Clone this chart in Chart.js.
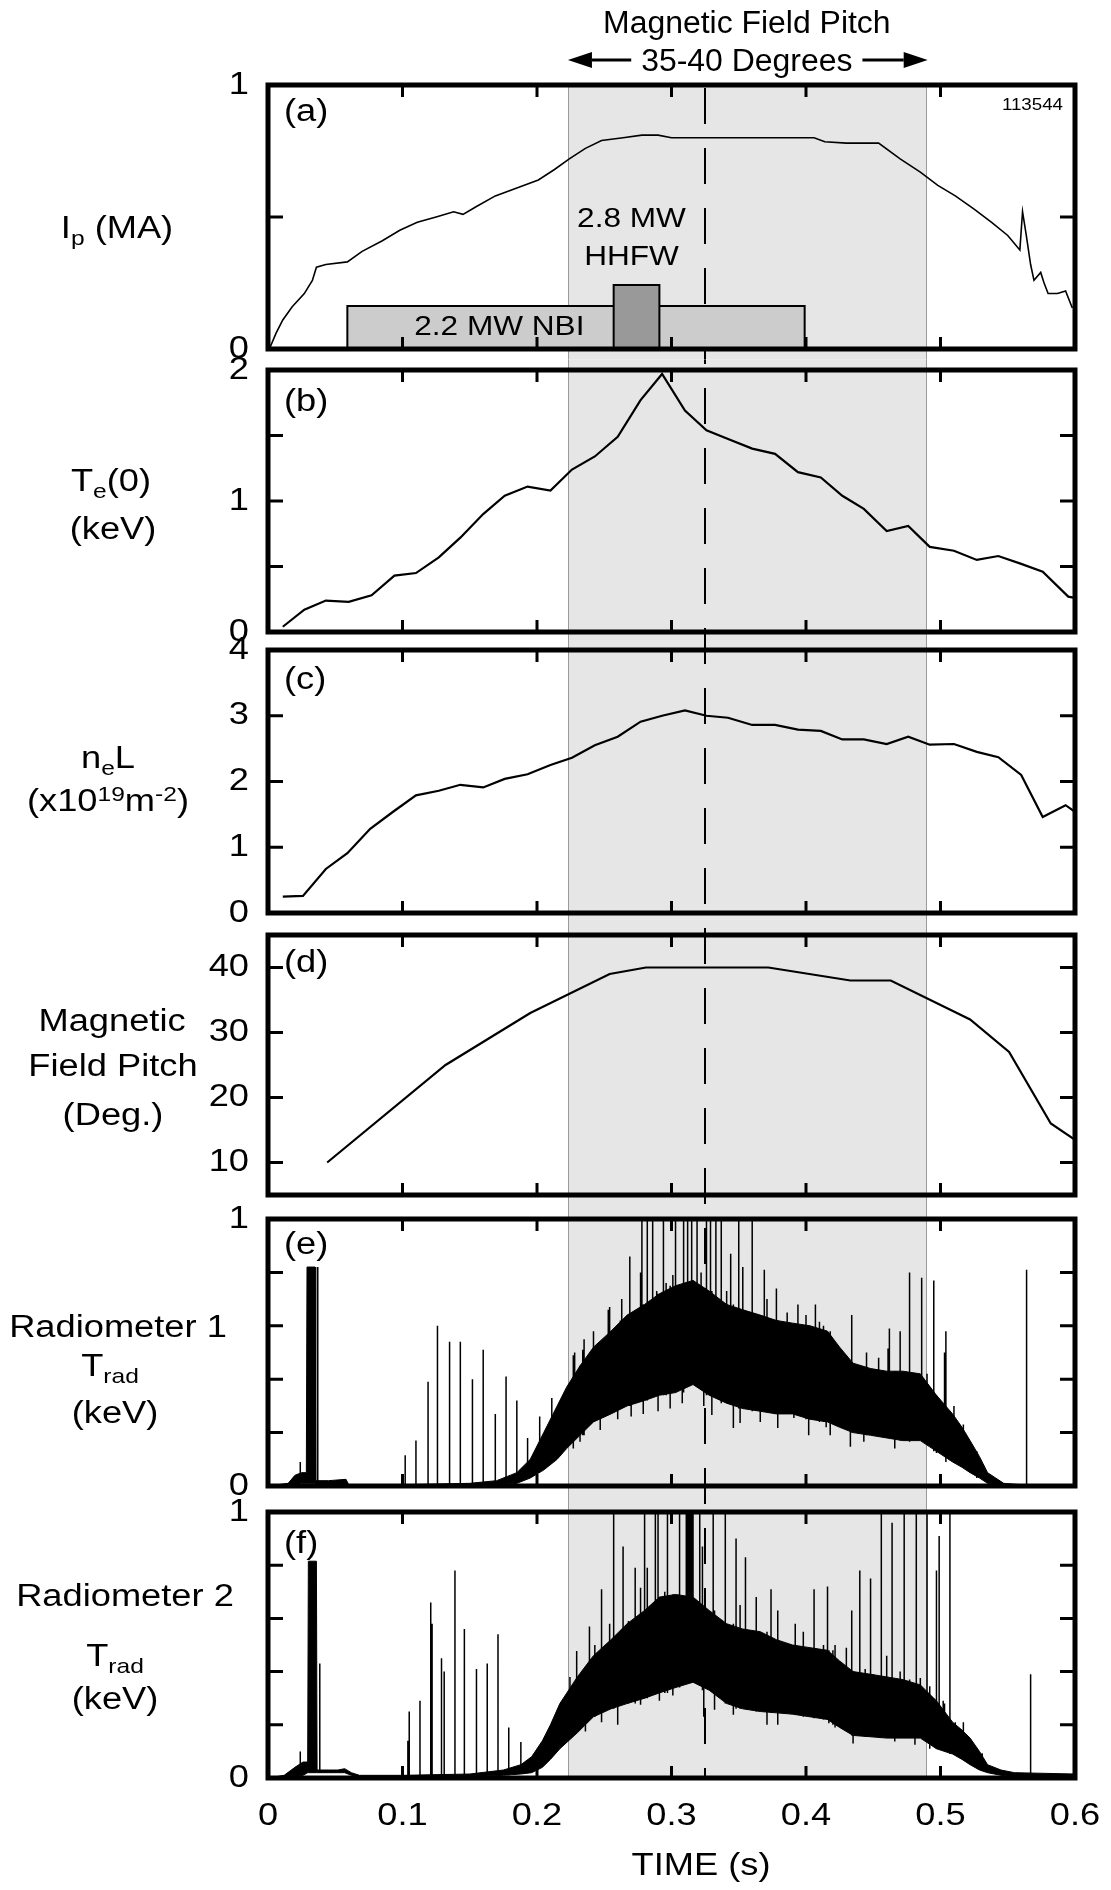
<!DOCTYPE html>
<html>
<head>
<meta charset="utf-8">
<title>Shot 113544</title>
<script src="https://cdn.jsdelivr.net/npm/chart.js@4.4.1/dist/chart.umd.min.js"></script>
<style>
  html, body { margin: 0; padding: 0; background: #fff; }
  #wrap { position: relative; width: 1111px; height: 1890px; overflow: hidden; background: #fff; }
  #wrap canvas { position: absolute; left: 0; }
</style>
</head>
<body>
<div id="wrap"></div>
<script>
// ---- time axis ----
const timeTicks = [0, 0.1, 0.2, 0.3, 0.4, 0.5, 0.6];
const timeLabels = ['0', '0.1', '0.2', '0.3', '0.4', '0.5', '0.6'];

// window where the field pitch is 35-40 degrees, and the dashed marker
const pitchWindow = [0.223, 0.489];
const markerTime = 0.325;

// (a) plasma current (MA)
const ipTime = [0.001, 0.006, 0.011, 0.018, 0.027, 0.033, 0.036, 0.043, 0.059, 0.070, 0.085, 0.098, 0.111, 0.125, 0.138, 0.145, 0.155, 0.169, 0.185, 0.201, 0.213, 0.224, 0.236, 0.248, 0.264, 0.278, 0.290, 0.300, 0.327, 0.360, 0.406, 0.414, 0.430, 0.454, 0.470, 0.485, 0.498, 0.511, 0.525, 0.538, 0.550, 0.559, 0.561, 0.5635, 0.567, 0.5695, 0.5745, 0.577, 0.580, 0.587, 0.593, 0.598];
const ipValue = [0, 0.06, 0.11, 0.16, 0.21, 0.26, 0.31, 0.32, 0.33, 0.37, 0.41, 0.45, 0.48, 0.50, 0.52, 0.51, 0.54, 0.58, 0.61, 0.64, 0.68, 0.72, 0.76, 0.79, 0.80, 0.81, 0.81, 0.80, 0.80, 0.80, 0.80, 0.785, 0.78, 0.78, 0.72, 0.67, 0.62, 0.58, 0.53, 0.48, 0.43, 0.375, 0.52, 0.44, 0.32, 0.26, 0.29, 0.25, 0.21, 0.21, 0.22, 0.155];
// heating pulses drawn as boxes on panel (a)
const nbiTime = [0.059, 0.399];
const nbiHeight = 0.163;
const hhfwTime = [0.257, 0.291];
const hhfwHeight = 0.242;
const ipTicks = [0, 0.5, 1];
const ipTickLabels = ['0', '', '1'];

// (b) central electron temperature (keV)
const teTime = [0.011, 0.027, 0.043, 0.060, 0.077, 0.094, 0.110, 0.127, 0.143, 0.160, 0.176, 0.193, 0.210, 0.226, 0.243, 0.260, 0.277, 0.293, 0.310, 0.326, 0.343, 0.360, 0.377, 0.394, 0.411, 0.427, 0.443, 0.460, 0.476, 0.492, 0.510, 0.527, 0.543, 0.560, 0.576, 0.595, 0.600];
const teValue = [0.04, 0.17, 0.24, 0.23, 0.28, 0.43, 0.45, 0.57, 0.72, 0.90, 1.04, 1.11, 1.08, 1.24, 1.34, 1.49, 1.77, 1.97, 1.69, 1.54, 1.47, 1.40, 1.36, 1.22, 1.18, 1.04, 0.94, 0.77, 0.81, 0.65, 0.62, 0.55, 0.58, 0.52, 0.46, 0.27, 0.26];
const teTicks = [0, 0.5, 1, 1.5, 2];
const teTickLabels = ['0', '', '1', '', '2'];

// (c) line density (1e19 m^-2)
const nelTime = [0.011, 0.026, 0.043, 0.059, 0.076, 0.093, 0.110, 0.127, 0.143, 0.160, 0.176, 0.193, 0.210, 0.226, 0.243, 0.260, 0.277, 0.293, 0.310, 0.326, 0.342, 0.360, 0.377, 0.394, 0.411, 0.427, 0.443, 0.460, 0.476, 0.492, 0.510, 0.527, 0.543, 0.560, 0.576, 0.593, 0.600];
const nelValue = [0.25, 0.26, 0.67, 0.91, 1.28, 1.54, 1.79, 1.86, 1.95, 1.91, 2.04, 2.11, 2.25, 2.36, 2.55, 2.68, 2.91, 3.00, 3.08, 3.00, 2.97, 2.86, 2.86, 2.79, 2.77, 2.64, 2.64, 2.57, 2.68, 2.56, 2.57, 2.45, 2.37, 2.10, 1.46, 1.64, 1.54];
const nelTicks = [0, 1, 2, 3, 4];
const nelTickLabels = ['0', '1', '2', '3', '4'];

// (d) magnetic field pitch (deg)
const pitchTime = [0.044, 0.132, 0.195, 0.254, 0.281, 0.372, 0.433, 0.463, 0.522, 0.551, 0.582, 0.600];
const pitchValue = [10, 25, 33, 39, 40, 40, 38, 38, 32, 27, 16, 13.5];
const pitchTicks = [10, 20, 30, 40];
const pitchTickLabels = ['10', '20', '30', '40'];

// (e) radiometer 1 (keV): envelope of the noisy band, spikes up, dips down
const rad1Time = [0, 0.015, 0.020, 0.025, 0.0285, 0.029, 0.035, 0.0355, 0.045, 0.058, 0.060, 0.100, 0.150, 0.170, 0.185, 0.195, 0.205, 0.215, 0.222, 0.232, 0.242, 0.255, 0.267, 0.280, 0.291, 0.303, 0.316, 0.328, 0.341, 0.353, 0.366, 0.378, 0.390, 0.403, 0.416, 0.425, 0.435, 0.448, 0.460, 0.472, 0.485, 0.497, 0.509, 0.516, 0.522, 0.529, 0.535, 0.541, 0.547, 0.560, 0.600];
const rad1Upper = [0, 0.01, 0.04, 0.05, 0.05, 0.82, 0.82, 0.02, 0.02, 0.025, 0.005, 0.005, 0.01, 0.02, 0.05, 0.10, 0.20, 0.30, 0.37, 0.45, 0.52, 0.58, 0.64, 0.68, 0.72, 0.75, 0.77, 0.73, 0.68, 0.66, 0.64, 0.62, 0.61, 0.60, 0.58, 0.52, 0.46, 0.44, 0.43, 0.43, 0.42, 0.34, 0.27, 0.22, 0.17, 0.11, 0.05, 0.03, 0.01, 0.005, 0];
const rad1Lower = [0, 0, 0, 0.01, 0.01, 0.01, 0.01, 0.005, 0.005, 0.005, 0, 0, 0.005, 0.005, 0.01, 0.03, 0.06, 0.10, 0.14, 0.19, 0.24, 0.27, 0.30, 0.32, 0.34, 0.35, 0.38, 0.34, 0.31, 0.29, 0.28, 0.27, 0.27, 0.25, 0.24, 0.22, 0.20, 0.19, 0.18, 0.17, 0.17, 0.13, 0.09, 0.07, 0.05, 0.03, 0.01, 0.005, 0, 0, 0];
const rad1SpikeTime = [0.024, 0.037, 0.102, 0.110, 0.119, 0.126, 0.135, 0.143, 0.152, 0.160, 0.169, 0.177, 0.185, 0.193, 0.202, 0.211, 0.228, 0.235, 0.253, 0.262, 0.269, 0.277, 0.278, 0.282, 0.286, 0.294, 0.301, 0.303, 0.309, 0.312, 0.315, 0.319, 0.326, 0.329, 0.333, 0.337, 0.344, 0.350, 0.353, 0.360, 0.369, 0.378, 0.407, 0.434, 0.462, 0.470, 0.477, 0.486, 0.495, 0.504, 0.564,
  0.227, 0.234, 0.242, 0.254, 0.263, 0.289, 0.296, 0.322, 0.341, 0.360, 0.371, 0.386, 0.394, 0.400, 0.413, 0.410, 0.420, 0.445, 0.454, 0.461, 0.503, 0.510, 0.517, 0.527];
const rad1SpikeTop = [0.09, 0.82, 0.115, 0.17, 0.39, 0.60, 0.54, 0.54, 0.40, 0.51, 0.27, 0.41, 0.32, 0.18, 0.26, 0.33, 0.50, 0.55, 0.66, 0.62, 0.86, 0.80, 1, 1, 1, 1, 0.79, 1, 1, 1, 1, 1, 1, 1, 1, 1, 0.87, 1, 0.82, 1, 0.81, 0.74, 0.68, 0.64, 0.59, 0.58, 0.80, 0.78, 0.77, 0.58, 0.81,
  0.49, 0.51, 0.58, 0.67, 0.70, 0.73, 0.76, 0.80, 0.73, 0.67, 0.70, 0.65, 0.68, 0.64, 0.60, 0.615, 0.53, 0.50, 0.48, 0.515, 0.50, 0.30, 0.23, 0.13];
const rad1DipTime = [0.232, 0.247, 0.260, 0.270, 0.279, 0.290, 0.299, 0.308, 0.324, 0.330, 0.346, 0.351, 0.366, 0.379, 0.391, 0.402, 0.415, 0.418, 0.433, 0.443, 0.466, 0.477, 0.490, 0.497];
const rad1DipBottom = [0.166, 0.21, 0.25, 0.26, 0.27, 0.28, 0.29, 0.31, 0.30, 0.266, 0.217, 0.236, 0.24, 0.217, 0.255, 0.19, 0.22, 0.19, 0.147, 0.166, 0.14, 0.166, 0.154, 0.124];

// (f) radiometer 2 (keV)
const rad2Time = [0, 0.012, 0.020, 0.026, 0.0295, 0.030, 0.036, 0.0365, 0.045, 0.052, 0.057, 0.062, 0.068, 0.100, 0.150, 0.175, 0.188, 0.196, 0.204, 0.210, 0.217, 0.230, 0.242, 0.255, 0.267, 0.280, 0.291, 0.303, 0.316, 0.328, 0.341, 0.353, 0.366, 0.378, 0.390, 0.403, 0.416, 0.425, 0.435, 0.448, 0.460, 0.472, 0.485, 0.497, 0.509, 0.516, 0.522, 0.529, 0.535, 0.545, 0.555, 0.600];
const rad2Upper = [0, 0.01, 0.04, 0.06, 0.06, 0.815, 0.815, 0.03, 0.03, 0.03, 0.035, 0.02, 0.01, 0.01, 0.015, 0.03, 0.05, 0.08, 0.14, 0.20, 0.28, 0.38, 0.46, 0.52, 0.58, 0.63, 0.68, 0.69, 0.68, 0.63, 0.58, 0.56, 0.55, 0.52, 0.50, 0.49, 0.48, 0.44, 0.40, 0.39, 0.38, 0.37, 0.35, 0.29, 0.21, 0.18, 0.15, 0.10, 0.05, 0.03, 0.02, 0.015];
const rad2Lower = [0, 0, 0.005, 0.01, 0.02, 0.02, 0.02, 0.02, 0.02, 0.02, 0.02, 0.01, 0.005, 0, 0.005, 0.01, 0.015, 0.02, 0.04, 0.07, 0.11, 0.17, 0.23, 0.26, 0.28, 0.30, 0.32, 0.34, 0.36, 0.33, 0.28, 0.26, 0.25, 0.245, 0.24, 0.23, 0.22, 0.19, 0.16, 0.155, 0.15, 0.15, 0.15, 0.11, 0.09, 0.07, 0.05, 0.03, 0.02, 0.01, 0.005, 0.005];
const rad2SpikeTime = [0.024, 0.0385, 0.104, 0.105, 0.113, 0.121, 0.122, 0.129, 0.131, 0.139, 0.146, 0.155, 0.163, 0.171, 0.179, 0.188, 0.239, 0.248, 0.257, 0.264, 0.273, 0.280, 0.282, 0.288, 0.290, 0.297, 0.306, 0.311, 0.312, 0.313, 0.314, 0.315, 0.316, 0.321, 0.323, 0.331, 0.340, 0.348, 0.355, 0.374, 0.406, 0.416, 0.440, 0.448, 0.456, 0.464, 0.473, 0.482, 0.490, 0.497, 0.499, 0.507, 0.567,
  0.2295, 0.243, 0.254, 0.268, 0.277, 0.295, 0.303, 0.351, 0.363, 0.379, 0.392, 0.398, 0.413, 0.4216, 0.430, 0.434, 0.444, 0.460, 0.470, 0.477, 0.485, 0.492, 0.503, 0.511, 0.517, 0.531];
const rad2SpikeTop = [0.10, 0.43, 0.14, 0.25, 0.29, 0.66, 0.58, 0.45, 0.40, 0.78, 0.56, 0.41, 0.43, 0.54, 0.19, 0.135, 0.57, 0.71, 1, 0.87, 0.79, 1, 0.79, 1, 1, 1, 1, 1, 1, 1, 1, 1, 1, 1, 0.87, 1, 1, 0.90, 0.83, 0.71, 0.71, 0.72, 0.78, 0.75, 1, 0.96, 1, 1, 1, 0.78, 0.91, 1, 0.39,
  0.477, 0.50, 0.58, 0.59, 0.715, 0.70, 0.65, 0.65, 0.68, 0.63, 0.58, 0.55, 0.50, 0.50, 0.49, 0.63, 0.41, 0.46, 0.40, 0.37, 0.376, 0.345, 0.28, 0.21, 0.21, 0.093];
const rad2DipTime = [0.2245, 0.236, 0.248, 0.260, 0.277, 0.291, 0.301, 0.324, 0.332, 0.346, 0.371, 0.379, 0.391, 0.406, 0.417, 0.420, 0.435, 0.450, 0.466, 0.481, 0.492, 0.502];
const rad2DipBottom = [0.15, 0.175, 0.21, 0.20, 0.275, 0.29, 0.31, 0.23, 0.257, 0.238, 0.20, 0.20, 0.25, 0.225, 0.206, 0.20, 0.13, 0.16, 0.137, 0.125, 0.15, 0.106];
const radTicks = [0, 0.2, 0.4, 0.6, 0.8, 1];
const radTickLabels = ['0', '', '', '', '', '1'];

// ---- drawing helpers ----
const FONT = '"Liberation Sans", Arial, Helvetica, sans-serif';
const SX = 1.17;          // lettering in the original is a bit wider than Arial
const DASH = [36, 24];
const DASH_ORIGIN = 88;   // page y where the dash pattern starts

function pts(xs, ys) {
  return xs.map((x, i) => ({ x: x, y: ys[i] }));
}

function box(range, h) {
  return [{ x: range[0], y: 0 }, { x: range[0], y: h }, { x: range[1], y: h }, { x: range[1], y: 0 }];
}

function nearest(envTime, x) {
  let k = 0;
  envTime.forEach((t, j) => { if (Math.abs(t - x) < Math.abs(envTime[k] - x)) k = j; });
  return k;
}

// vertical strokes: spikes rise from the band's lower edge, dips hang from its upper edge
function strokes(spTime, spTop, dipTime, dipBottom, envTime, envLow, envUp) {
  const out = [];
  spTime.forEach((x, i) => {
    const k = nearest(envTime, x);
    out.push({ x: x, y: envLow[k] }, { x: x, y: spTop[i] }, { x: x, y: null });
  });
  dipTime.forEach((x, i) => {
    const k = nearest(envTime, x);
    out.push({ x: x, y: envUp[k] }, { x: x, y: dipBottom[i] }, { x: x, y: null });
  });
  return out;
}

function line(xs, ys, w) {
  return { data: pts(xs, ys), borderColor: '#000', borderWidth: w, pointRadius: 0, fill: false };
}

function label(ctx, s, x, y, size, align, sx) {
  ctx.save();
  ctx.font = size + 'px ' + FONT;
  ctx.fillStyle = '#000';
  ctx.textAlign = align || 'center';
  ctx.textBaseline = 'middle';
  ctx.translate(x, y);
  ctx.scale(sx || SX, 1);
  ctx.fillText(s, 0, 0);
  ctx.restore();
}

// runs: [text, 0 normal | 1 subscript | 2 superscript], centred on (cx, cy)
function richLabel(ctx, runs, cx, cy, size) {
  const small = Math.round(size * 0.68);
  ctx.save();
  ctx.fillStyle = '#000';
  ctx.textAlign = 'left';
  ctx.textBaseline = 'alphabetic';
  let w = 0;
  runs.forEach(r => {
    ctx.font = (r[1] ? small : size) + 'px ' + FONT;
    w += ctx.measureText(r[0]).width;
  });
  ctx.translate(cx - w * SX / 2, cy + size * 0.36);
  ctx.scale(SX, 1);
  let x = 0;
  runs.forEach(r => {
    ctx.font = (r[1] ? small : size) + 'px ' + FONT;
    const dy = r[1] === 1 ? size * 0.22 : (r[1] === 2 ? -size * 0.34 : 0);
    ctx.fillText(r[0], x, dy);
    x += ctx.measureText(r[0]).width;
  });
  ctx.restore();
}

function arrow(ctx, from, to, y) {
  const dir = Math.sign(to - from), head = 24;
  ctx.save();
  ctx.strokeStyle = '#000';
  ctx.fillStyle = '#000';
  ctx.lineWidth = 3;
  ctx.beginPath();
  ctx.moveTo(from, y);
  ctx.lineTo(to - dir * head, y);
  ctx.stroke();
  ctx.beginPath();
  ctx.moveTo(to, y);
  ctx.lineTo(to - dir * head, y - 8);
  ctx.lineTo(to - dir * head, y + 8);
  ctx.closePath();
  ctx.fill();
  ctx.restore();
}

function makePanel(p) {
  const canvas = document.createElement('canvas');
  canvas.width = 1111;
  canvas.height = p.height;
  canvas.style.top = p.top + 'px';
  document.getElementById('wrap').appendChild(canvas);

  const deco = {
    id: 'deco',
    beforeDatasetsDraw(chart) {
      const ctx = chart.ctx, a = chart.chartArea, x = chart.scales.x;
      const x0 = Math.round(x.getPixelForValue(pitchWindow[0])) + 0.5;
      const x1 = Math.round(x.getPixelForValue(pitchWindow[1])) + 0.5;
      const y0 = a.top - p.shade[0], y1 = a.bottom + p.shade[1];
      ctx.save();
      ctx.fillStyle = '#e6e6e6';
      ctx.fillRect(x0, y0, x1 - x0, y1 - y0);
      ctx.strokeStyle = '#9a9a9a';
      ctx.lineWidth = 1;
      ctx.beginPath();
      ctx.moveTo(x0, y0); ctx.lineTo(x0, y1);
      ctx.moveTo(x1, y0); ctx.lineTo(x1, y1);
      ctx.stroke();
      // dashed marker, pattern kept continuous across the panels
      const xm = Math.round(x.getPixelForValue(markerTime));
      const period = DASH[0] + DASH[1];
      ctx.strokeStyle = '#000';
      ctx.lineWidth = 2;
      ctx.setLineDash(DASH);
      ctx.lineDashOffset = (((p.top + y0 - DASH_ORIGIN) % period) + period) % period;
      ctx.beginPath();
      ctx.moveTo(xm, y0);
      ctx.lineTo(xm, y1);
      ctx.stroke();
      ctx.restore();
    },
    afterDatasetsDraw(chart) {
      const ctx = chart.ctx, a = chart.chartArea, x = chart.scales.x, y = chart.scales.y;
      ctx.save();
      ctx.strokeStyle = '#000';
      ctx.lineWidth = 3;
      ctx.beginPath();
      timeTicks.forEach(v => {
        if (v <= x.min || v >= x.max) return;
        const px = x.getPixelForValue(v);
        ctx.moveTo(px, a.top); ctx.lineTo(px, a.top + 12);
        ctx.moveTo(px, a.bottom); ctx.lineTo(px, a.bottom - 12);
      });
      p.ticks.forEach(v => {
        if (v <= y.min || v >= y.max) return;
        const py = y.getPixelForValue(v);
        ctx.moveTo(a.left, py); ctx.lineTo(a.left + 15, py);
        ctx.moveTo(a.right, py); ctx.lineTo(a.right - 15, py);
      });
      ctx.stroke();
      ctx.lineWidth = 5;
      ctx.strokeRect(a.left, a.top, a.right - a.left, a.bottom - a.top);
      ctx.restore();

      p.ticks.forEach((v, i) => {
        if (p.tickLabels[i]) label(ctx, p.tickLabels[i], a.left - 19, y.getPixelForValue(v), 31, 'right');
      });
      label(ctx, p.tag, a.left + 16, p.tagY - p.top, 31, 'left');
      p.side.forEach(s => richLabel(ctx, s[0], s[1], s[2] - p.top, 31));
      if (p.extra) p.extra(ctx, chart);
    }
  };

  return new Chart(canvas, {
    type: 'line',
    data: { datasets: p.datasets },
    options: {
      responsive: false,
      animation: false,
      devicePixelRatio: 1,
      layout: { padding: { left: 268, right: 36, top: p.pad[0], bottom: p.pad[1] } },
      scales: {
        x: { type: 'linear', min: 0, max: 0.6, display: false },
        y: { type: 'linear', min: p.yMin, max: p.yMax, display: false }
      },
      plugins: { legend: { display: false }, tooltip: { enabled: false } },
      elements: { point: { radius: 0 }, line: { tension: 0 } }
    },
    plugins: [deco]
  });
}

function radiometerSets(time, low, up, spT, spTop, dipT, dipBottom) {
  return [
    { data: strokes(spT, spTop, dipT, dipBottom, time, low, up), borderColor: '#000', borderWidth: 1.5, pointRadius: 0, fill: false },
    { data: pts(time, low), borderColor: '#000', borderWidth: 1, pointRadius: 0, fill: false },
    { data: pts(time, up), borderColor: '#000', borderWidth: 1, pointRadius: 0, fill: '-1', backgroundColor: '#000' }
  ];
}

// ---- panels ----
makePanel({
  top: 0, height: 379, pad: [85, 30], shade: [0, 10.5],
  yMin: 0, yMax: 1, ticks: ipTicks, tickLabels: ipTickLabels,
  tag: '(a)', tagY: 112,
  side: [[[['I', 0], ['p', 1], [' (MA)', 0]], 117, 227]],
  datasets: [
    line(ipTime, ipValue, 1.6),
    { data: box(hhfwTime, hhfwHeight), fill: 'origin', backgroundColor: '#999999', borderColor: '#000', borderWidth: 2, pointRadius: 0 },
    { data: box(nbiTime, nbiHeight), fill: 'origin', backgroundColor: '#cccccc', borderColor: '#000', borderWidth: 2, pointRadius: 0 }
  ],
  extra(ctx, chart) {
    const x = chart.scales.x, a = chart.chartArea;
    const xl = x.getPixelForValue(pitchWindow[0]), xr = x.getPixelForValue(pitchWindow[1]);
    const cx = (xl + xr) / 2;
    label(ctx, 'Magnetic Field Pitch', cx, 24, 31, 'center', 1.03);
    label(ctx, '35-40 Degrees', cx, 62, 31, 'center', 1.03);
    ctx.font = '31px ' + FONT;
    const half = ctx.measureText('35-40 Degrees').width * 1.03 / 2;
    arrow(ctx, cx - half - 10, xl, 60);
    arrow(ctx, cx + half + 10, xr + 2, 60);
    const hx = x.getPixelForValue((hhfwTime[0] + hhfwTime[1]) / 2) - 5;
    label(ctx, '2.8 MW', hx, 220, 27);
    label(ctx, 'HHFW', hx, 258, 27);
    label(ctx, '2.2 MW NBI', x.getPixelForValue(0.172), 328, 27);
    label(ctx, '113544', a.right - 12, 106, 16, 'right');
  }
});

makePanel({
  top: 340, height: 322, pad: [30, 30], shade: [10.5, 9],
  yMin: 0, yMax: 2, ticks: teTicks, tickLabels: teTickLabels,
  tag: '(b)', tagY: 402,
  side: [
    [[['T', 0], ['e', 1], ['(0)', 0]], 111, 480],
    [[['(keV)', 0]], 113, 528]
  ],
  datasets: [line(teTime, teValue, 2.2)]
});

makePanel({
  top: 620, height: 323, pad: [30, 30], shade: [9, 11],
  yMin: 0, yMax: 4, ticks: nelTicks, tickLabels: nelTickLabels,
  tag: '(c)', tagY: 680,
  side: [
    [[['n', 0], ['e', 1], ['L', 0]], 108, 757],
    [[['(x10', 0], ['19', 2], ['m', 0], ['-2', 2], [')', 0]], 108, 800]
  ],
  datasets: [line(nelTime, nelValue, 2.2)]
});

makePanel({
  top: 905, height: 320, pad: [30, 30], shade: [11, 12],
  yMin: 5, yMax: 45, ticks: pitchTicks, tickLabels: pitchTickLabels,
  tag: '(d)', tagY: 963,
  side: [
    [[['Magnetic', 0]], 112, 1020],
    [[['Field Pitch', 0]], 113, 1065],
    [[['(Deg.)', 0]], 113, 1114]
  ],
  datasets: [line(pitchTime, pitchValue, 2.2)]
});

makePanel({
  top: 1189, height: 327, pad: [30, 30], shade: [12, 13],
  yMin: 0, yMax: 1, ticks: radTicks, tickLabels: radTickLabels,
  tag: '(e)', tagY: 1245,
  side: [
    [[['Radiometer 1', 0]], 118, 1326],
    [[['T', 0], ['rad', 1]], 110, 1365],
    [[['(keV)', 0]], 115, 1412]
  ],
  datasets: radiometerSets(rad1Time, rad1Lower, rad1Upper, rad1SpikeTime, rad1SpikeTop, rad1DipTime, rad1DipBottom)
});

makePanel({
  top: 1482, height: 408, pad: [30, 112], shade: [13, 0],
  yMin: 0, yMax: 1, ticks: radTicks, tickLabels: radTickLabels,
  tag: '(f)', tagY: 1544,
  side: [
    [[['Radiometer 2', 0]], 125, 1595],
    [[['T', 0], ['rad', 1]], 115, 1655],
    [[['(keV)', 0]], 115, 1698]
  ],
  datasets: radiometerSets(rad2Time, rad2Lower, rad2Upper, rad2SpikeTime, rad2SpikeTop, rad2DipTime, rad2DipBottom),
  extra(ctx, chart) {
    const x = chart.scales.x, a = chart.chartArea;
    timeTicks.forEach((v, i) => label(ctx, timeLabels[i], x.getPixelForValue(v), a.bottom + 38, 31));
    label(ctx, 'TIME (s)', 701, 1866 - 1482, 31);
  }
});
</script>
</body>
</html>
